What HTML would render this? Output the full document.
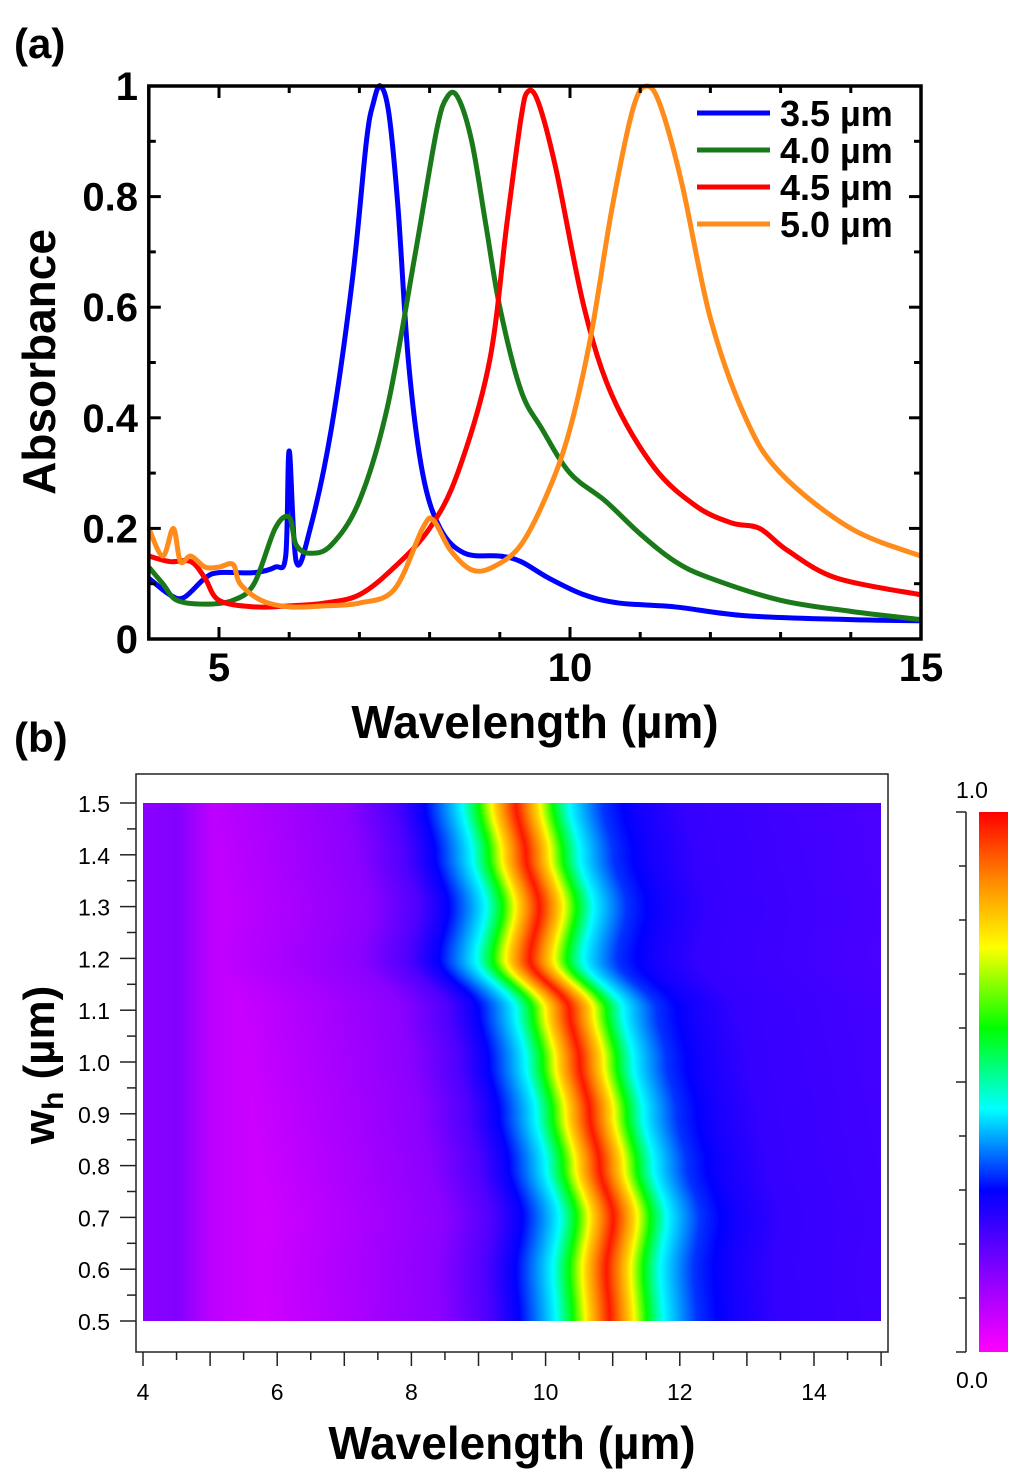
<!DOCTYPE html>
<html><head><meta charset="utf-8"><style>
body{margin:0;background:#fff;width:1024px;height:1479px;overflow:hidden;font-family:"Liberation Sans",Arial,sans-serif}
svg{position:absolute;left:0;top:0}
canvas{position:absolute;left:143px;top:803px}
</style></head><body>
<svg id="top" width="1024" height="760"></svg>
<svg id="bot" width="1024" height="1479" style="top:0"></svg>
<canvas id="hm" width="738" height="518"></canvas>
<script>
// ---- top chart data ----
const seriesLabels=["3.5 µm","4.0 µm","4.5 µm","5.0 µm"];
const seriesColors=["#0000ff","#1a7a1a","#ff0000","#ff8c1a"];
const s35=[[4,0.11],[4.3,0.08],[4.5,0.075],[4.8,0.11],[5,0.12],[5.5,0.12],[5.8,0.13],[5.95,0.15],[6.0,0.34],[6.1,0.14],[6.3,0.2],[6.6,0.38],[6.9,0.65],[7.1,0.9],[7.2,0.97],[7.3,1.0],[7.42,0.95],[7.55,0.78],[7.7,0.5],[7.9,0.3],[8.15,0.2],[8.5,0.155],[9.0,0.15],[9.3,0.14],[9.7,0.11],[10.2,0.08],[10.7,0.065],[11.5,0.058],[12.5,0.042],[14,0.035],[15,0.033]];
const s40=[[4,0.13],[4.2,0.1],[4.4,0.07],[4.8,0.063],[5.2,0.07],[5.5,0.1],[5.8,0.2],[6.0,0.22],[6.1,0.17],[6.3,0.155],[6.6,0.17],[7.0,0.25],[7.4,0.42],[7.8,0.7],[8.1,0.92],[8.25,0.98],[8.4,0.98],[8.6,0.9],[8.8,0.75],[9.0,0.6],[9.3,0.45],[9.6,0.38],[10.0,0.3],[10.5,0.25],[11.0,0.19],[11.5,0.14],[12,0.11],[13,0.07],[14,0.05],[15,0.035]];
const s45=[[4,0.15],[4.3,0.14],[4.6,0.14],[4.8,0.11],[5,0.07],[5.5,0.058],[6,0.06],[6.5,0.065],[7,0.08],[7.5,0.13],[8,0.2],[8.4,0.3],[8.85,0.5],[9.1,0.75],[9.3,0.94],[9.4,0.99],[9.55,0.97],[9.8,0.85],[10.2,0.6],[10.6,0.44],[11.2,0.31],[11.8,0.24],[12.3,0.21],[12.7,0.2],[13.1,0.16],[13.8,0.11],[15,0.08]];
const s50=[[4,0.2],[4.2,0.15],[4.35,0.2],[4.45,0.14],[4.6,0.15],[4.8,0.13],[5,0.13],[5.2,0.135],[5.3,0.1],[5.6,0.07],[6,0.058],[6.5,0.06],[7,0.065],[7.5,0.09],[7.9,0.2],[8.05,0.215],[8.3,0.16],[8.6,0.125],[8.9,0.13],[9.3,0.17],[9.7,0.27],[10.0,0.38],[10.3,0.55],[10.6,0.78],[10.9,0.96],[11.1,1.0],[11.3,0.96],[11.6,0.82],[12.0,0.58],[12.5,0.4],[13.0,0.3],[14,0.2],[15,0.15]];
const xTicksTop=[5,10,15];
const yTicksTop=[0,0.2,0.4,0.6,0.8,1];
const yTickLabelsTop=["0","0.2","0.4","0.6","0.8","1"];
// ---- heatmap data ----
const whRows=[0.5,0.6,0.7,0.8,0.9,1.0,1.1,1.2,1.3,1.4,1.5];
const peakWl=[10.95,10.9,11.0,10.8,10.65,10.5,10.35,9.76,9.9,9.7,9.55];
const profOffset=[-7,-2.5,-1.8,-1.35,-0.8,-0.55,-0.3,0,0.3,0.55,0.8,1.3,1.8,2.5,7];
const profValue=[0.0,0.14,0.21,0.3,0.45,0.6,0.8,0.98,0.8,0.6,0.45,0.33,0.28,0.24,0.2];
const bgWl=[4,4.5,5,6,7,7.5,15];
const bgVal=[0.14,0.15,0.08,0.05,0.07,0.1,0.2];
const xTicksBot=[4,6,8,10,12,14];
const yTicksBot=[0.5,0.6,0.7,0.8,0.9,1.0,1.1,1.2,1.3,1.4,1.5];

const NS="http://www.w3.org/2000/svg";
function mk(p,t,a,txt){const e=document.createElementNS(NS,t);for(const k in a)e.setAttribute(k,a[k]);if(txt!=null)e.textContent=txt;p.appendChild(e);return e;}
function smooth(pts){let d='M'+pts[0][0]+','+pts[0][1];for(let i=0;i<pts.length-1;i++){const p0=pts[Math.max(0,i-1)],p1=pts[i],p2=pts[i+1],p3=pts[Math.min(pts.length-1,i+2)];const k=1/6;
 d+=' C'+(p1[0]+(p2[0]-p0[0])*k)+','+(p1[1]+(p2[1]-p0[1])*k)+' '+(p2[0]-(p3[0]-p1[0])*k)+','+(p2[1]-(p3[1]-p1[1])*k)+' '+p2[0]+','+p2[1];}return d;}
// top
const T=document.getElementById('top');
const X=v=>148.8+(v-4)*70.2, Y=v=>639-v*553;
const tt=mk(T,'text',{x:14,y:58,'font-size':42,'font-weight':'bold'},'(a)');

[s35,s40,s45,s50].forEach((s,i)=>{
  const p=mk(T,'path',{d:smooth(s.map(d=>[X(d[0]),Y(d[1])])),fill:'none',stroke:seriesColors[i],'stroke-width':5,'stroke-linejoin':'round'});
  
  
  const ly=113+i*37;
  const l=mk(T,'line',{x1:697,x2:770,y1:ly,y2:ly,stroke:seriesColors[i],'stroke-width':5});
  
  const t=mk(T,'text',{x:780,y:ly+13,'font-size':36,'font-weight':'bold'},seriesLabels[i]);
  
});
const fr=mk(T,'rect',{x:148.8,y:86,width:772.2,height:553,fill:'none',stroke:'#000','stroke-width':3.5});

for(let v=4;v<=15;v+=1){const x=X(v);const L=(v%5==0)?12:7;
  mk(T,'line',{x1:x,x2:x,y1:639,y2:639-L,stroke:'#000','stroke-width':3});
  mk(T,'line',{x1:x,x2:x,y1:86,y2:86+L,stroke:'#000','stroke-width':3});}
for(let v=0.1;v<1;v+=0.1){const y=Y(v);const L=(Math.round(v*10)%2==0)?12:7;
  mk(T,'line',{x1:148.8,x2:148.8+L,y1:y,y2:y,stroke:'#000','stroke-width':3});
  mk(T,'line',{x1:921,x2:921-L,y1:y,y2:y,stroke:'#000','stroke-width':3});}
xTicksTop.forEach(v=>{const t=mk(T,'text',{x:X(v),y:681,'font-size':40,'font-weight':'bold','text-anchor':'middle'},String(v));
  });
yTicksTop.forEach((v,i)=>{const t=mk(T,'text',{x:138,y:Y(v)+14,'font-size':40,'font-weight':'bold','text-anchor':'end'},yTickLabelsTop[i]);
  });
let a=mk(T,'text',{x:535,y:738,'font-size':46,'font-weight':'bold','text-anchor':'middle'},'Wavelength (µm)');

a=mk(T,'text',{x:0,y:0,'font-size':46,'font-weight':'bold','text-anchor':'middle',transform:'translate(55,362) rotate(-90)'},'Absorbance');

// bottom
const B=document.getElementById('bot');
const BX=v=>143+(v-4)*67.1, BY=v=>1321-(v-0.5)*518;
a=mk(B,'text',{x:14,y:752,'font-size':42,'font-weight':'bold'},'(b)');

a=mk(B,'rect',{x:136,y:774,width:752,height:578,fill:'none',stroke:'#222','stroke-width':1.5});

for(let v=4;v<=15.01;v+=0.5){const x=BX(v);mk(B,'line',{x1:x,x2:x,y1:1352,y2:Number.isInteger(v)?1366:1360,stroke:'#222','stroke-width':1.5});}
for(let v=0.5;v<=1.501;v+=0.05){const y=BY(v);mk(B,'line',{x1:136,x2:(Math.round(v*100)%10==0)?120:127,y1:y,y2:y,stroke:'#222','stroke-width':1.5});}
xTicksBot.forEach(v=>{const t=mk(B,'text',{x:BX(v),y:1400,'font-size':23,'text-anchor':'middle'},String(v));
  });
yTicksBot.forEach(v=>{const t=mk(B,'text',{x:110,y:BY(v)+9,'font-size':23,'text-anchor':'end'},v.toFixed(1));
  });
a=mk(B,'text',{x:512,y:1459,'font-size':46,'font-weight':'bold','text-anchor':'middle'},'Wavelength (µm)');

a=mk(B,'text',{x:0,y:0,'font-size':44,'font-weight':'bold','text-anchor':'middle',transform:'translate(54,1065) rotate(-90)'});

a.innerHTML='w<tspan font-size="30" dy="9">h</tspan><tspan dy="-9"> (µm)</tspan>';
// colorbar
const defs=mk(B,'defs',{});
const g=mk(defs,'linearGradient',{id:'cb',x1:0,y1:1,x2:0,y2:0});
const cmapV=[0,0.15,0.3,0.45,0.6,0.75,0.87,1];
const cmapC=[[255,0,255],[130,0,255],[0,0,255],[0,255,255],[0,255,0],[255,255,0],[255,140,0],[255,0,0]];
cmapV.forEach((v,i)=>mk(g,'stop',{offset:v,'stop-color':'rgb('+cmapC[i].join(',')+')'}));
a=mk(B,'rect',{x:979,y:812,width:29,height:540,fill:'url(#cb)'});

mk(B,'line',{x1:966,x2:966,y1:812,y2:1352,stroke:'#222','stroke-width':1.5});
for(let i=0;i<=10;i++){const y=812+i*54;mk(B,'line',{x1:i==5||i==0||i==10?956:959,x2:966,y1:y,y2:y,stroke:'#222','stroke-width':1.5});}
a=mk(B,'text',{x:972,y:798,'font-size':23,'text-anchor':'middle'},'1.0');
a=mk(B,'text',{x:972,y:1388,'font-size':23,'text-anchor':'middle'},'0.0');
// heatmap render
function cmap(v){v=Math.max(0,Math.min(1,v));for(let i=1;i<cmapV.length;i++){if(v<=cmapV[i]){const t=(v-cmapV[i-1])/(cmapV[i]-cmapV[i-1]);return cmapC[i-1].map((c,k)=>c+(cmapC[i][k]-c)*t);}}return cmapC[cmapC.length-1];}
function interp(xs,ys,d){if(d<=xs[0])return ys[0];for(let i=1;i<xs.length;i++){if(d<=xs[i]){const t=(d-xs[i-1])/(xs[i]-xs[i-1]);return ys[i-1]+(ys[i]-ys[i-1])*t;}}return ys[ys.length-1];}
const cv=document.getElementById('hm'),ctx=cv.getContext('2d'),W=cv.width,H=cv.height,img=ctx.createImageData(W,H);
for(let py=0;py<H;py++){const wh=1.5-py/H;let r=(wh-0.5)/0.1;let i0=Math.max(0,Math.min(whRows.length-2,Math.floor(r)));let t=Math.max(0,Math.min(1,r-i0));
  t=t*t*(3-2*t);
  const pk=peakWl[i0]+(peakWl[i0+1]-peakWl[i0])*t;
  for(let px=0;px<W;px++){const wl=4+px/W*11;const v=Math.max(interp(profOffset,profValue,wl-pk),interp(bgWl,bgVal,wl));const c=cmap(v);const o=(py*W+px)*4;img.data[o]=c[0];img.data[o+1]=c[1];img.data[o+2]=c[2];img.data[o+3]=255;}}
ctx.putImageData(img,0,0);
</script>
</body></html>
